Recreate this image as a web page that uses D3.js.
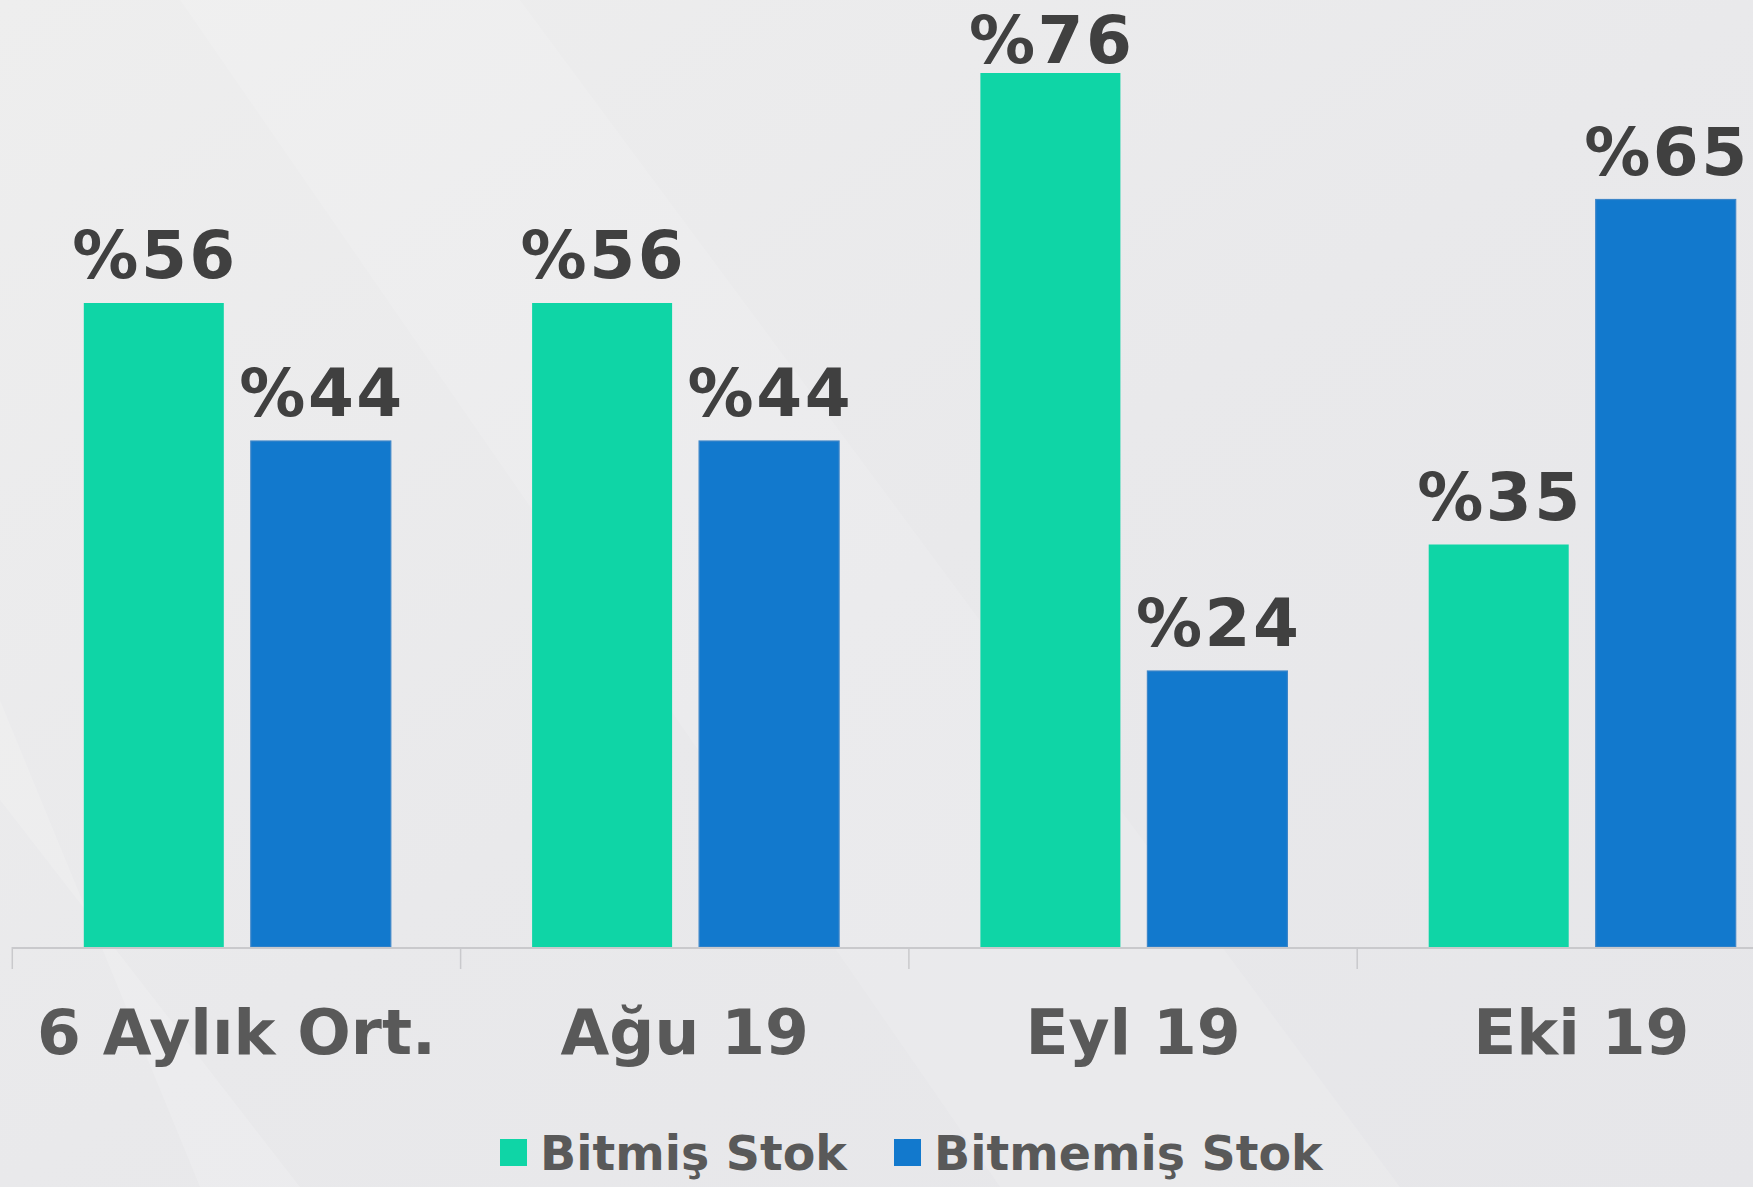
<!DOCTYPE html>
<html>
<head>
<meta charset="utf-8">
<script src="https://cdn.jsdelivr.net/npm/d3@7"></script>
<style>
  html, body { margin: 0; padding: 0; }
  body { width: 1753px; height: 1187px; overflow: hidden; background: #e9e9eb; }
  svg { display: block; }
</style>
</head>
<body>
<div id="chart"></div>
<script>
(function () {
  'use strict';

  // data
  const categories = ['6 Aylık Ort.', 'Ağu 19', 'Eyl 19', 'Eki 19'];
  const seriesNames = ['Bitmiş Stok', 'Bitmemiş Stok'];
  const bitmis = [56, 56, 76, 35];
  const bitmemis = [44, 44, 24, 65];
  const seriesValues = [bitmis, bitmemis];
  const colors = ['#0fd5a6', '#1279cd'];

  const W = 1753, H = 1187;
  const baseY = 947;
  const bandStep = 448.3;
  const plotLeft = 12.3;
  const valSpacing = 2.5;

  const svg = d3.select('#chart').append('svg')
    .attr('width', W)
    .attr('height', H);

  // background
  const defs = svg.append('defs');
  const bg = defs.append('linearGradient')
    .attr('id', 'bg').attr('x1', 0).attr('y1', 0).attr('x2', 1).attr('y2', 1);
  bg.append('stop').attr('offset', '0%').attr('stop-color', '#eeeeee');
  bg.append('stop').attr('offset', '50%').attr('stop-color', '#e9e9eb');
  bg.append('stop').attr('offset', '100%').attr('stop-color', '#e6e6e9');
  svg.append('rect').attr('width', W).attr('height', H).attr('fill', 'url(#bg)');

  // faint diagonal streaks
  svg.append('path')
    .attr('d', 'M180,0 L520,0 L1400,1187 L1000,1187 Z')
    .attr('fill', '#ffffff').attr('opacity', 0.12);
  svg.append('path')
    .attr('d', 'M0,700 L0,800 L300,1187 L200,1187 Z')
    .attr('fill', '#ffffff').attr('opacity', 0.15);

  // scales
  const x0 = d3.scaleBand()
    .domain(categories)
    .range([plotLeft, plotLeft + bandStep * categories.length])
    .padding(0);

  const x1 = d3.scaleBand()
    .domain(seriesNames)
    .range([71.5, 71.5 + 307])
    .paddingInner(0.1617)
    .paddingOuter(0);

  const y = d3.scaleLinear()
    .domain([0, 80])
    .range([baseY, baseY - 80 * 11.5]);

  // bars
  const groups = svg.append('g').selectAll('g.cat')
    .data(categories)
    .join('g')
    .attr('class', 'cat')
    .attr('transform', c => `translate(${x0(c)},0)`);

  groups.selectAll('rect')
    .data((c, i) => seriesNames.map((s, k) => ({ s, k, v: seriesValues[k][i] })))
    .join('rect')
    .attr('x', d => x1(d.s))
    .attr('y', d => y(d.v))
    .attr('width', x1.bandwidth())
    .attr('height', d => y(0) - y(d.v))
    .attr('fill', d => colors[d.k])
    .attr('stroke', d => d.k === 1 ? '#3d86c9' : 'none')
    .attr('stroke-width', 1.2);

  // value labels (kept inside the top edge)
  groups.selectAll('text.val')
    .data((c, i) => seriesNames.map((s, k) => ({ s, k, v: seriesValues[k][i] })))
    .join('text')
    .attr('class', 'val')
    .attr('x', d => x1(d.s) + x1.bandwidth() / 2 + valSpacing / 2)
    .attr('y', d => Math.max(y(d.v) - 25, 63))
    .attr('text-anchor', 'middle')
    .attr('font-family', '"DejaVu Sans", Verdana, sans-serif')
    .attr('font-weight', 'bold')
    .attr('font-size', 66)
    .attr('letter-spacing', valSpacing)
    .attr('fill', '#404040')
    .text(d => '%' + d.v);

  // axis line + boundary ticks
  const axis = svg.append('g').attr('class', 'axis');
  axis.append('line')
    .attr('x1', plotLeft).attr('x2', W)
    .attr('y1', baseY + 1).attr('y2', baseY + 1)
    .attr('stroke', '#c9c9cc').attr('stroke-width', 2);
  axis.selectAll('line.tick')
    .data(categories)
    .join('line')
    .attr('class', 'tick')
    .attr('x1', c => x0(c)).attr('x2', c => x0(c))
    .attr('y1', baseY).attr('y2', baseY + 22)
    .attr('stroke', '#c9c9cc').attr('stroke-width', 1.5);

  // category labels
  const xAxis = svg.append('g')
    .attr('transform', `translate(0,${baseY})`)
    .call(d3.axisBottom(x0).tickSize(0).tickPadding(0));
  xAxis.select('.domain').remove();
  xAxis.selectAll('.tick text')
    .attr('y', 107)
    .attr('dy', 0)
    .attr('font-family', '"DejaVu Sans", Verdana, sans-serif')
    .attr('font-weight', 'bold')
    .attr('font-size', 63)
    .attr('fill', '#595959');

  // legend
  const legend = svg.append('g').attr('transform', 'translate(500,1139)');
  const legX = [0, 394];
  const item = legend.selectAll('g.item')
    .data(seriesNames)
    .join('g')
    .attr('class', 'item')
    .attr('transform', (d, i) => `translate(${legX[i]},0)`);
  item.append('rect')
    .attr('width', 27).attr('height', 27)
    .attr('fill', (d, i) => colors[i]);
  item.append('text')
    .attr('x', 40).attr('y', 31)
    .attr('font-family', '"DejaVu Sans", Verdana, sans-serif')
    .attr('font-weight', 'bold')
    .attr('font-size', 47.5)
    .attr('fill', '#595959')
    .text(d => d);
})();
</script>
</body>
</html>
